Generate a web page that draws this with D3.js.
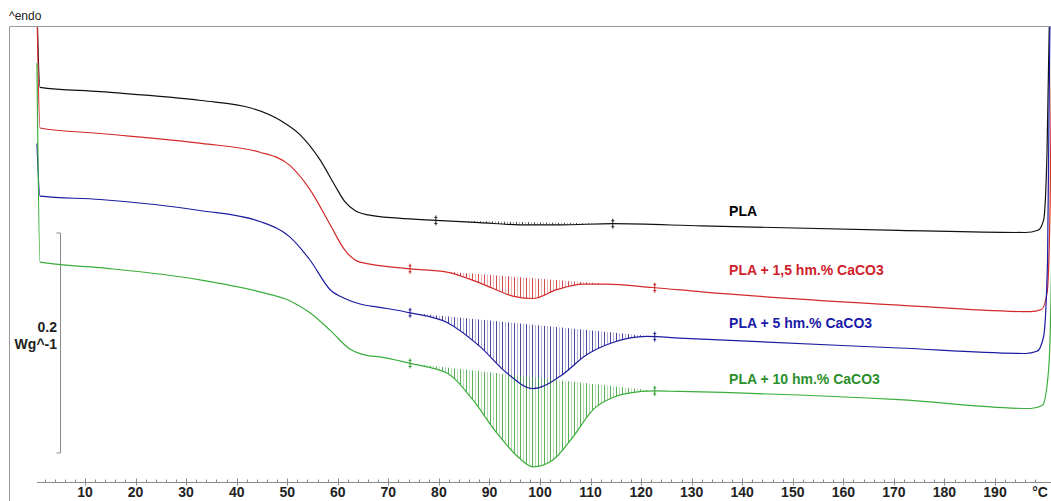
<!DOCTYPE html>
<html>
<head>
<meta charset="utf-8">
<script src="https://cdn.jsdelivr.net/npm/d3@7"></script>
<style>
  html, body { margin: 0; padding: 0; background: #fff; }
  svg { display: block; font-family: "Liberation Sans", Arial, Helvetica, sans-serif; }
</style>
</head>
<body>
<svg id="chart" width="1051" height="501"></svg>
<script>
// DSC heating curves, heat flow in W/g (endo up), temperature in °C
const tempPLA = [0.5, 1.1, 13, 33, 43, 48.6, 52.5, 56.5, 59.4, 61.4, 63.4, 66, 72, 79.4, 88, 96, 104, 114.4, 132, 171, 196, 198.5, 199.6, 200.3, 200.8];
const flowPLA = [0.43, 0.357, 0.353, 0.345, 0.338, 0.327, 0.314, 0.291, 0.268, 0.253, 0.245, 0.241, 0.238, 0.236, 0.234, 0.232, 0.232, 0.233, 0.231, 0.227, 0.225, 0.227, 0.236, 0.3, 0.43];

const tempPLA15 = [0.5, 1.1, 13, 33, 44.6, 50.5, 54.5, 58.5, 61.4, 64.4, 74.3, 81.6, 88.2, 94.8, 98.6, 103.3, 108.5, 113, 122.3, 132, 171, 197, 199.2, 200.3, 200.9, 201.3];
const flowPLA15 = [0.43, 0.32, 0.315, 0.306, 0.298, 0.286, 0.264, 0.232, 0.209, 0.198, 0.192, 0.189, 0.179, 0.167, 0.165, 0.173, 0.178, 0.178, 0.175, 0.171, 0.159, 0.153, 0.155, 0.17, 0.25, 0.43];

const tempPLA5 = [0.5, 1.1, 13, 32.7, 44.6, 50.5, 54.5, 58.5, 61.4, 64.4, 68.3, 74.3, 81.7, 88.2, 93.5, 98.6, 103.9, 109.3, 114.4, 121.1, 127.6, 171, 196, 198.3, 199.6, 200.4, 200.9];
const flowPLA5 = [0.306, 0.258, 0.255, 0.245, 0.235, 0.221, 0.2, 0.173, 0.165, 0.16, 0.157, 0.152, 0.143, 0.121, 0.097, 0.083, 0.094, 0.114, 0.125, 0.1305, 0.129, 0.12, 0.115, 0.117, 0.13, 0.2, 0.43];

const tempPLA10 = [0.5, 1.1, 13, 32.7, 44.6, 50.5, 54.5, 58.5, 62.4, 66, 68.3, 74.3, 81.7, 86.7, 91.4, 95.9, 98.6, 102.5, 106.5, 110.5, 114.4, 117.5, 122.7, 127.6, 171, 197, 199.4, 200.6, 201.2, 201.6];
const flowPLA10 = [0.379, 0.198, 0.193, 0.182, 0.171, 0.163, 0.152, 0.136, 0.119, 0.113, 0.112, 0.106, 0.097, 0.073, 0.043, 0.02, 0.012, 0.018, 0.039, 0.064, 0.075, 0.079, 0.081, 0.0805, 0.073, 0.065, 0.068, 0.1, 0.2, 0.43];

// Integration limits of the cold-crystallisation peaks (°C)
const limitsPLA = [79.4, 114.4];
const limitsPLA15 = [74.3, 122.7];
const limitsPLA5 = [74.3, 122.7];
const limitsPLA10 = [74.3, 122.7];

const seriesNames = ["PLA", "PLA + 1,5 hm.% CaCO3", "PLA + 5 hm.% CaCO3", "PLA + 10 hm.% CaCO3"];
const seriesLabelFlow = [0.240, 0.186, 0.138, 0.087];
const seriesLabelTemp = [137.4, 137.4, 137.4, 137.4];

const majorTicks = [10, 20, 30, 40, 50, 60, 70, 80, 90, 100, 110, 120, 130, 140, 150, 160, 170, 180, 190];
const minorTicks = d3.range(2, 202, 2);
const scaleBarValue = 0.2;

const series = [
  { name: seriesNames[0], t: tempPLA,   v: flowPLA,   lim: limitsPLA,   line: "#111111", text: "#000000", hatch: "#222222" },
  { name: seriesNames[1], t: tempPLA15, v: flowPLA15, lim: limitsPLA15, line: "#d42a2a", text: "#d0202a", hatch: "#c81e1e" },
  { name: seriesNames[2], t: tempPLA5,  v: flowPLA5,  lim: limitsPLA5,  line: "#1c1ca0", text: "#1a1aa8", hatch: "#1c1c8c" },
  { name: seriesNames[3], t: tempPLA10, v: flowPLA10, lim: limitsPLA10, line: "#3aae3a", text: "#2a8f2a", hatch: "#2f9a2f" }
];

const svg = d3.select("#chart");
const W = 1051, H = 501;
const frame = { left: 9.5, top: 26.5, right: 1051, bottom: 501 };
const axisY = 482.5;

const x = d3.scaleLinear().domain([10, 190]).range([85, 995]);
const y = d3.scaleLinear().domain([0, 0.4]).range([480, 40]);

// Frame
svg.append("line").attr("x1", frame.left).attr("x2", frame.right).attr("y1", frame.top).attr("y2", frame.top)
  .attr("stroke", "#9a9a9a").attr("stroke-width", 1);
svg.append("line").attr("x1", frame.left).attr("x2", frame.left).attr("y1", frame.top).attr("y2", frame.bottom)
  .attr("stroke", "#9a9a9a").attr("stroke-width", 1);

svg.append("text").attr("x", 9).attr("y", 20).attr("font-size", 12).attr("fill", "#222").text("^endo");

// Temperature axis
const axisG = svg.append("g");
axisG.append("line").attr("x1", x(0.5)).attr("x2", W).attr("y1", axisY).attr("y2", axisY)
  .attr("stroke", "#8a8a8a").attr("stroke-width", 1.2);
axisG.selectAll("line.minor").data(minorTicks.filter(t => t % 10 !== 0)).join("line")
  .attr("class", "minor")
  .attr("x1", d => Math.round(x(d)) + 0.5).attr("x2", d => Math.round(x(d)) + 0.5)
  .attr("y1", axisY - 3).attr("y2", axisY)
  .attr("stroke", "#8a8a8a").attr("stroke-width", 1);
axisG.selectAll("line.major").data(majorTicks).join("line")
  .attr("class", "major")
  .attr("x1", d => Math.round(x(d)) + 0.5).attr("x2", d => Math.round(x(d)) + 0.5)
  .attr("y1", axisY - 4).attr("y2", axisY + 3)
  .attr("stroke", "#8a8a8a").attr("stroke-width", 1);
axisG.selectAll("text.tick").data(majorTicks).join("text")
  .attr("class", "tick")
  .attr("x", d => x(d)).attr("y", 497)
  .attr("text-anchor", "middle").attr("font-size", 14).attr("font-weight", "bold").attr("fill", "#222")
  .text(d => d);
axisG.append("text").attr("x", 1040).attr("y", 497).attr("text-anchor", "middle")
  .attr("font-size", 14).attr("font-weight", "bold").attr("fill", "#222").text("°C");

// Heat-flow scale bar
const barX = 60.5;
const barY1 = 233, barY0 = barY1 + (y(0) - y(scaleBarValue));
const barG = svg.append("g").attr("stroke", "#8a8a8a").attr("stroke-width", 1).attr("fill", "none");
barG.append("path").attr("d", `M${barX - 4},${barY1} H${barX} V${barY0} H${barX - 4}`);
svg.append("text").attr("x", 57).attr("y", 332).attr("text-anchor", "end")
  .attr("font-size", 14).attr("font-weight", "bold").attr("fill", "#222").text(scaleBarValue);
svg.append("text").attr("x", 57).attr("y", 349).attr("text-anchor", "end")
  .attr("font-size", 14).attr("font-weight", "bold").attr("fill", "#222").text("Wg^-1");

// Plot area clip
svg.append("defs").append("clipPath").attr("id", "plotClip")
  .append("rect").attr("x", frame.left + 0.5).attr("y", frame.top + 0.5)
  .attr("width", W - frame.left).attr("height", axisY - frame.top - 1);

const plot = svg.append("g").attr("clip-path", "url(#plotClip)");
const lineGen = d3.line().x(d => x(d[0])).y(d => y(d[1])).curve(d3.curveMonotoneX);

series.forEach(s => {
  const pts = s.t.map((t, i) => [t, s.v[i]]);
  const path = plot.append("path").datum(pts)
    .attr("d", lineGen).attr("fill", "none")
    .attr("stroke", s.line).attr("stroke-width", 1.2);

  // Sample the rendered curve so hatching follows it exactly
  const node = path.node();
  const len = node.getTotalLength();
  const samples = [];
  for (let l = 0; l <= len; l += 0.5) samples.push(node.getPointAtLength(l));
  const curveYAt = px => {
    let best = null, bd = Infinity;
    for (const p of samples) {
      const d = Math.abs(p.x - px);
      if (d < bd && p.y > frame.top + 5) { bd = d; best = p; }
    }
    return best.y;
  };

  const xa = x(s.lim[0]), xb = x(s.lim[1]);
  const ya = curveYAt(xa), yb = curveYAt(xb);
  const base = px => ya + (yb - ya) * (px - xa) / (xb - xa);

  const hatch = plot.insert("g", "path").attr("stroke", s.hatch).attr("stroke-width", 1);
  let k = 0;
  for (let px = xa + 2; px < xb - 1; px += 3, k++) {
    const yc = curveYAt(px), yBase = base(px);
    if (yc - yBase > 0.8) {
      hatch.append("line")
        .attr("x1", Math.round(px) + 0.5).attr("x2", Math.round(px) + 0.5)
        .attr("y1", yBase).attr("y2", yc)
        .attr("stroke-opacity", k % 2 === 0 ? 0.8 : 0.35);
    }
  }

  // Limit markers
  [[xa, ya], [xb, yb]].forEach(([mx, my]) => {
    const g = plot.append("g").attr("stroke", s.hatch).attr("stroke-width", 1);
    g.append("line").attr("x1", mx).attr("x2", mx).attr("y1", my - 5).attr("y2", my + 5);
    g.append("line").attr("x1", mx - 1.5).attr("x2", mx + 1.5).attr("y1", my - 3).attr("y2", my - 3);
    g.append("line").attr("x1", mx - 1.5).attr("x2", mx + 1.5).attr("y1", my + 3).attr("y2", my + 3);
  });
});

// Series labels
svg.selectAll("text.series").data(series).join("text")
  .attr("class", "series")
  .attr("x", (d, i) => x(seriesLabelTemp[i])).attr("y", (d, i) => y(seriesLabelFlow[i]))
  .attr("font-size", 14).attr("font-weight", "bold")
  .attr("fill", d => d.text)
  .text(d => d.name);
</script>
</body>
</html>
